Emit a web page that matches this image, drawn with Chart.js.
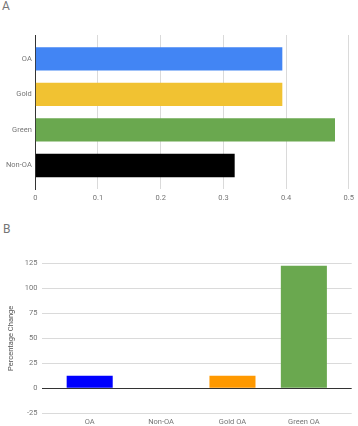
<!DOCTYPE html>
<html>
<head>
<meta charset="utf-8">
<script src="https://cdn.jsdelivr.net/npm/chart.js@4"></script>
<style>
  html, body { margin: 0; padding: 0; background: #fff; }
  body { width: 358px; height: 426px; position: relative; overflow: hidden; font-family: Roboto, sans-serif; }
  .panel { position: absolute; left: 0; font-size: 12px; line-height: 12px; color: #757575; }
  canvas { position: absolute; left: 0; }
</style>
</head>
<body>
<div class="panel" style="top:0px;left:2px;">A</div>
<div class="panel" style="top:223px;left:3px;">B</div>
<canvas id="chartA" width="358" height="210" style="top:0px;"></canvas>
<canvas id="chartB" width="358" height="216" style="top:210px;"></canvas>
<script>
// ---- Panel A data ----
const categoriesA = ["OA", "Gold", "Green", "Non-OA"];
const valuesA = [0.394, 0.394, 0.478, 0.318];
const colorsA = ["#4285f4", "#f1c232", "#6aa84f", "#000000"];
const ticksA = [0, 0.1, 0.2, 0.3, 0.4, 0.5];

// ---- Panel B data ----
const categoriesB = ["OA", "Non-OA", "Gold OA", "Green OA"];
const valuesB = [12.5, 0, 12.5, 122.5];
const colorsB = ["#0000ff", "#999999", "#ff9900", "#6aa84f"];
const ticksB = [-25, 0, 25, 50, 75, 100, 125];
const yTitleB = "Percentage Change";

const FONT = { family: "Roboto", size: 7.5 };
const TEXT = "#757575";
const GRID = "#dadada";
const AXIS = "#333333";

Chart.defaults.font.family = "Roboto";

new Chart(document.getElementById("chartA"), {
  type: "bar",
  data: {
    datasets: [{
      data: valuesA.map((v, i) => ({ x: v, y: i })),
      backgroundColor: colorsA,
      borderWidth: 0,
      categoryPercentage: 1,
      barPercentage: 0.656
    }]
  },
  options: {
    indexAxis: "y",
    responsive: false,
    devicePixelRatio: 1,
    animation: false,
    layout: { padding: { top: 35, right: 6.3, left: 0, bottom: 0 } },
    plugins: { legend: { display: false }, tooltip: { enabled: false } },
    scales: {
      x: {
        type: "linear",
        min: 0, max: 0.5,
        afterBuildTicks: s => { s.ticks = ticksA.map(v => ({ value: v })); },
        afterFit: s => { s.height = 20.7; },
        ticks: { font: FONT, color: TEXT, padding: 4, callback: v => String(v) },
        grid: { color: c => (c.tick && c.tick.value === 0 ? "rgba(0,0,0,0)" : GRID), drawTicks: false },
        border: { display: false }
      },
      y: {
        type: "linear",
        offset: false,
        min: -0.67, max: 3.67,
        reverse: true,
        afterBuildTicks: s => { s.ticks = categoriesA.map((_, i) => ({ value: i })); },
        afterFit: s => { s.width = 35.3; },
        ticks: { font: FONT, color: TEXT, padding: 3.5, callback: v => categoriesA[v] },
        grid: { display: false, drawTicks: false, offset: false },
        border: { display: true, color: AXIS, width: 1 }
      }
    }
  }
});

new Chart(document.getElementById("chartB"), {
  type: "bar",
  data: {
    datasets: [{
      data: valuesB.map((v, i) => ({ x: i, y: v })),
      backgroundColor: colorsB,
      borderWidth: 0,
      categoryPercentage: 1,
      barPercentage: 0.645
    }]
  },
  options: {
    responsive: false,
    devicePixelRatio: 1,
    animation: false,
    layout: { padding: { top: 53.3, right: 6.3, left: 0, bottom: 0 } },
    plugins: { legend: { display: false }, tooltip: { enabled: false } },
    scales: {
      x: {
        type: "linear",
        offset: false,
        min: -0.668, max: 3.67,
        afterBuildTicks: s => { s.ticks = categoriesB.map((_, i) => ({ value: i })); },
        afterFit: s => { s.height = 12.7; },
        ticks: { font: FONT, color: TEXT, padding: 4, callback: v => categoriesB[v] },
        grid: { display: false, drawTicks: false, offset: false },
        border: { display: false }
      },
      y: {
        type: "linear",
        min: -25, max: 125,
        afterBuildTicks: s => { s.ticks = ticksB.map(v => ({ value: v })); },
        afterFit: s => { s.width = 42; },
        ticks: { font: FONT, color: TEXT, padding: 4.5 },
        grid: {
          color: c => (c.tick && c.tick.value === 0 ? AXIS : GRID),
          drawTicks: false
        },
        border: { display: false },
        title: { display: true, text: yTitleB, font: FONT, color: "#555555", padding: { top: 6.2, bottom: 0 } }
      }
    }
  }
});
</script>
</body>
</html>
